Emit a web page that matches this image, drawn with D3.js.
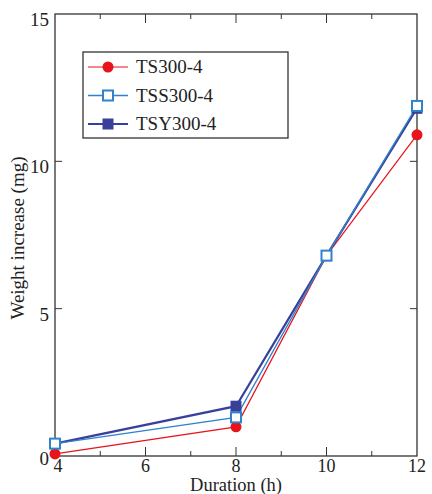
<!DOCTYPE html>
<html>
<head>
<meta charset="utf-8">
<script src="https://cdn.jsdelivr.net/npm/d3@7"></script>
<style>
body{margin:0;background:#fff;}
</style>
</head>
<body>
<div id="chart"></div>
<script>
var durations = [4, 8, 10, 12];
var seriesNames = ["TS300-4", "TSS300-4", "TSY300-4"];
var ts300 = [0.07, 0.99, 6.8, 10.9];
var tss300 = [0.42, 1.31, 6.8, 11.88];
var tsy300 = [0.42, 1.69, 6.8, 11.8];
var xTicks = [4, 6, 8, 10, 12];
var xMinor = [5, 7, 9, 11];
var yTicks = [0, 5, 10, 15];

var W = 432, H = 494;
var m = {left:55, right:15, top:14, bottom:38};
var FONT = "Liberation Serif";

var svg = d3.select("#chart").append("svg").attr("width", W).attr("height", H);

var x = d3.scaleLinear().domain([4, 12]).range([m.left, W - m.right]);
var y = d3.scaleLinear().domain([0, 15]).range([H - m.bottom, m.top]);

function label(g, tx, ty, str, anchor, size){
	return g.append("text").attr("x", tx).attr("y", ty).attr("font-family", FONT).attr("font-size", size || 19)
		.attr("fill", "#222").attr("text-anchor", anchor || "start").text(str);
}

var axes = svg.append("g");
//frame
axes.append("rect").attr("x", x(4)).attr("y", y(15))
	.attr("width", x(12) - x(4)).attr("height", y(0) - y(15))
	.attr("fill", "none").attr("stroke", "#333").attr("stroke-width", 1.3);

//ticks point inward, on all four sides
xTicks.forEach(function(t){
	if(t == 4 || t == 12) return;
	axes.append("line").attr("x1", x(t)).attr("x2", x(t)).attr("y1", y(0)).attr("y2", y(0) - 9).attr("stroke", "#333");
	axes.append("line").attr("x1", x(t)).attr("x2", x(t)).attr("y1", y(15)).attr("y2", y(15) + 9).attr("stroke", "#333");
});
xMinor.forEach(function(t){
	axes.append("line").attr("x1", x(t)).attr("x2", x(t)).attr("y1", y(0)).attr("y2", y(0) - 5).attr("stroke", "#333");
	axes.append("line").attr("x1", x(t)).attr("x2", x(t)).attr("y1", y(15)).attr("y2", y(15) + 5).attr("stroke", "#333");
});
yTicks.forEach(function(t){
	if(t == 0 || t == 15) return;
	axes.append("line").attr("x1", x(4)).attr("x2", x(4) + 7).attr("y1", y(t)).attr("y2", y(t)).attr("stroke", "#333");
	axes.append("line").attr("x1", x(12)).attr("x2", x(12) - 7).attr("y1", y(t)).attr("y2", y(t)).attr("stroke", "#333");
});

xTicks.forEach(function(t){
	label(axes, x(t) + (t == 4 ? 3 : 0), y(0) + 16, t, "middle", 18);
});
yTicks.forEach(function(t){
	label(axes, x(4) - 6, t == 0 ? y(t) + 9 : y(t) + 12, t, "end");
});

label(axes, (x(4) + x(12)) / 2, H - 3, "Duration (h)", "middle", 18.5);
label(axes, 0, 0, "Weight increase (mg)", "middle")
	.attr("transform", "translate(24," + ((y(0) + y(15)) / 2 + 3) + ") rotate(-90)");

var series = [
	{name:seriesNames[0], vals:ts300, color:"#e8131b", width:1.2, marker:"circle", fill:"#e8131b"},
	{name:seriesNames[2], vals:tsy300, color:"#38409a", width:2.2, marker:"square", fill:"#38409a"},
	{name:seriesNames[1], vals:tss300, color:"#2f82cc", width:1.3, marker:"square", fill:"#fff"}
];

var line = d3.line().x(function(d){return x(d[0])}).y(function(d){return y(d[1])});

function marker(g, s, cx, cy){
	if(s.marker == "circle"){
		g.append("circle").attr("cx", cx).attr("cy", cy).attr("r", 5.5).attr("fill", s.fill);
	}
	else{
		var sz = s.fill == "#fff" ? 10 : 11;
		g.append("rect").attr("x", cx - sz / 2).attr("y", cy - sz / 2).attr("width", sz).attr("height", sz)
			.attr("fill", s.fill).attr("stroke", s.fill == "#fff" ? s.color : "none").attr("stroke-width", 2);
	}
}

var plot = svg.append("g");
series.forEach(function(s){
	var pts = durations.map(function(d, i){return [d, s.vals[i]]});
	plot.append("path").attr("d", line(pts)).attr("fill", "none").attr("stroke", s.color).attr("stroke-width", s.width);
});
series.forEach(function(s){
	durations.forEach(function(d, i){marker(plot, s, x(d), y(s.vals[i]))});
});

//legend, in the order of seriesNames
var lg = svg.append("g");
lg.append("rect").attr("x", 83).attr("y", 52).attr("width", 205).attr("height", 86)
	.attr("fill", "#fff").attr("stroke", "#333").attr("stroke-width", 1.3);
seriesNames.forEach(function(name, i){
	var s = series.filter(function(d){return d.name == name})[0];
	var ly = 67 + i * 28.5;
	lg.append("line").attr("x1", 88).attr("x2", 128).attr("y1", ly).attr("y2", ly).attr("stroke", s.color).attr("stroke-width", s.width);
	marker(lg, s, 108, ly);
	label(lg, 136, ly + 6, name);
});
</script>
</body>
</html>
